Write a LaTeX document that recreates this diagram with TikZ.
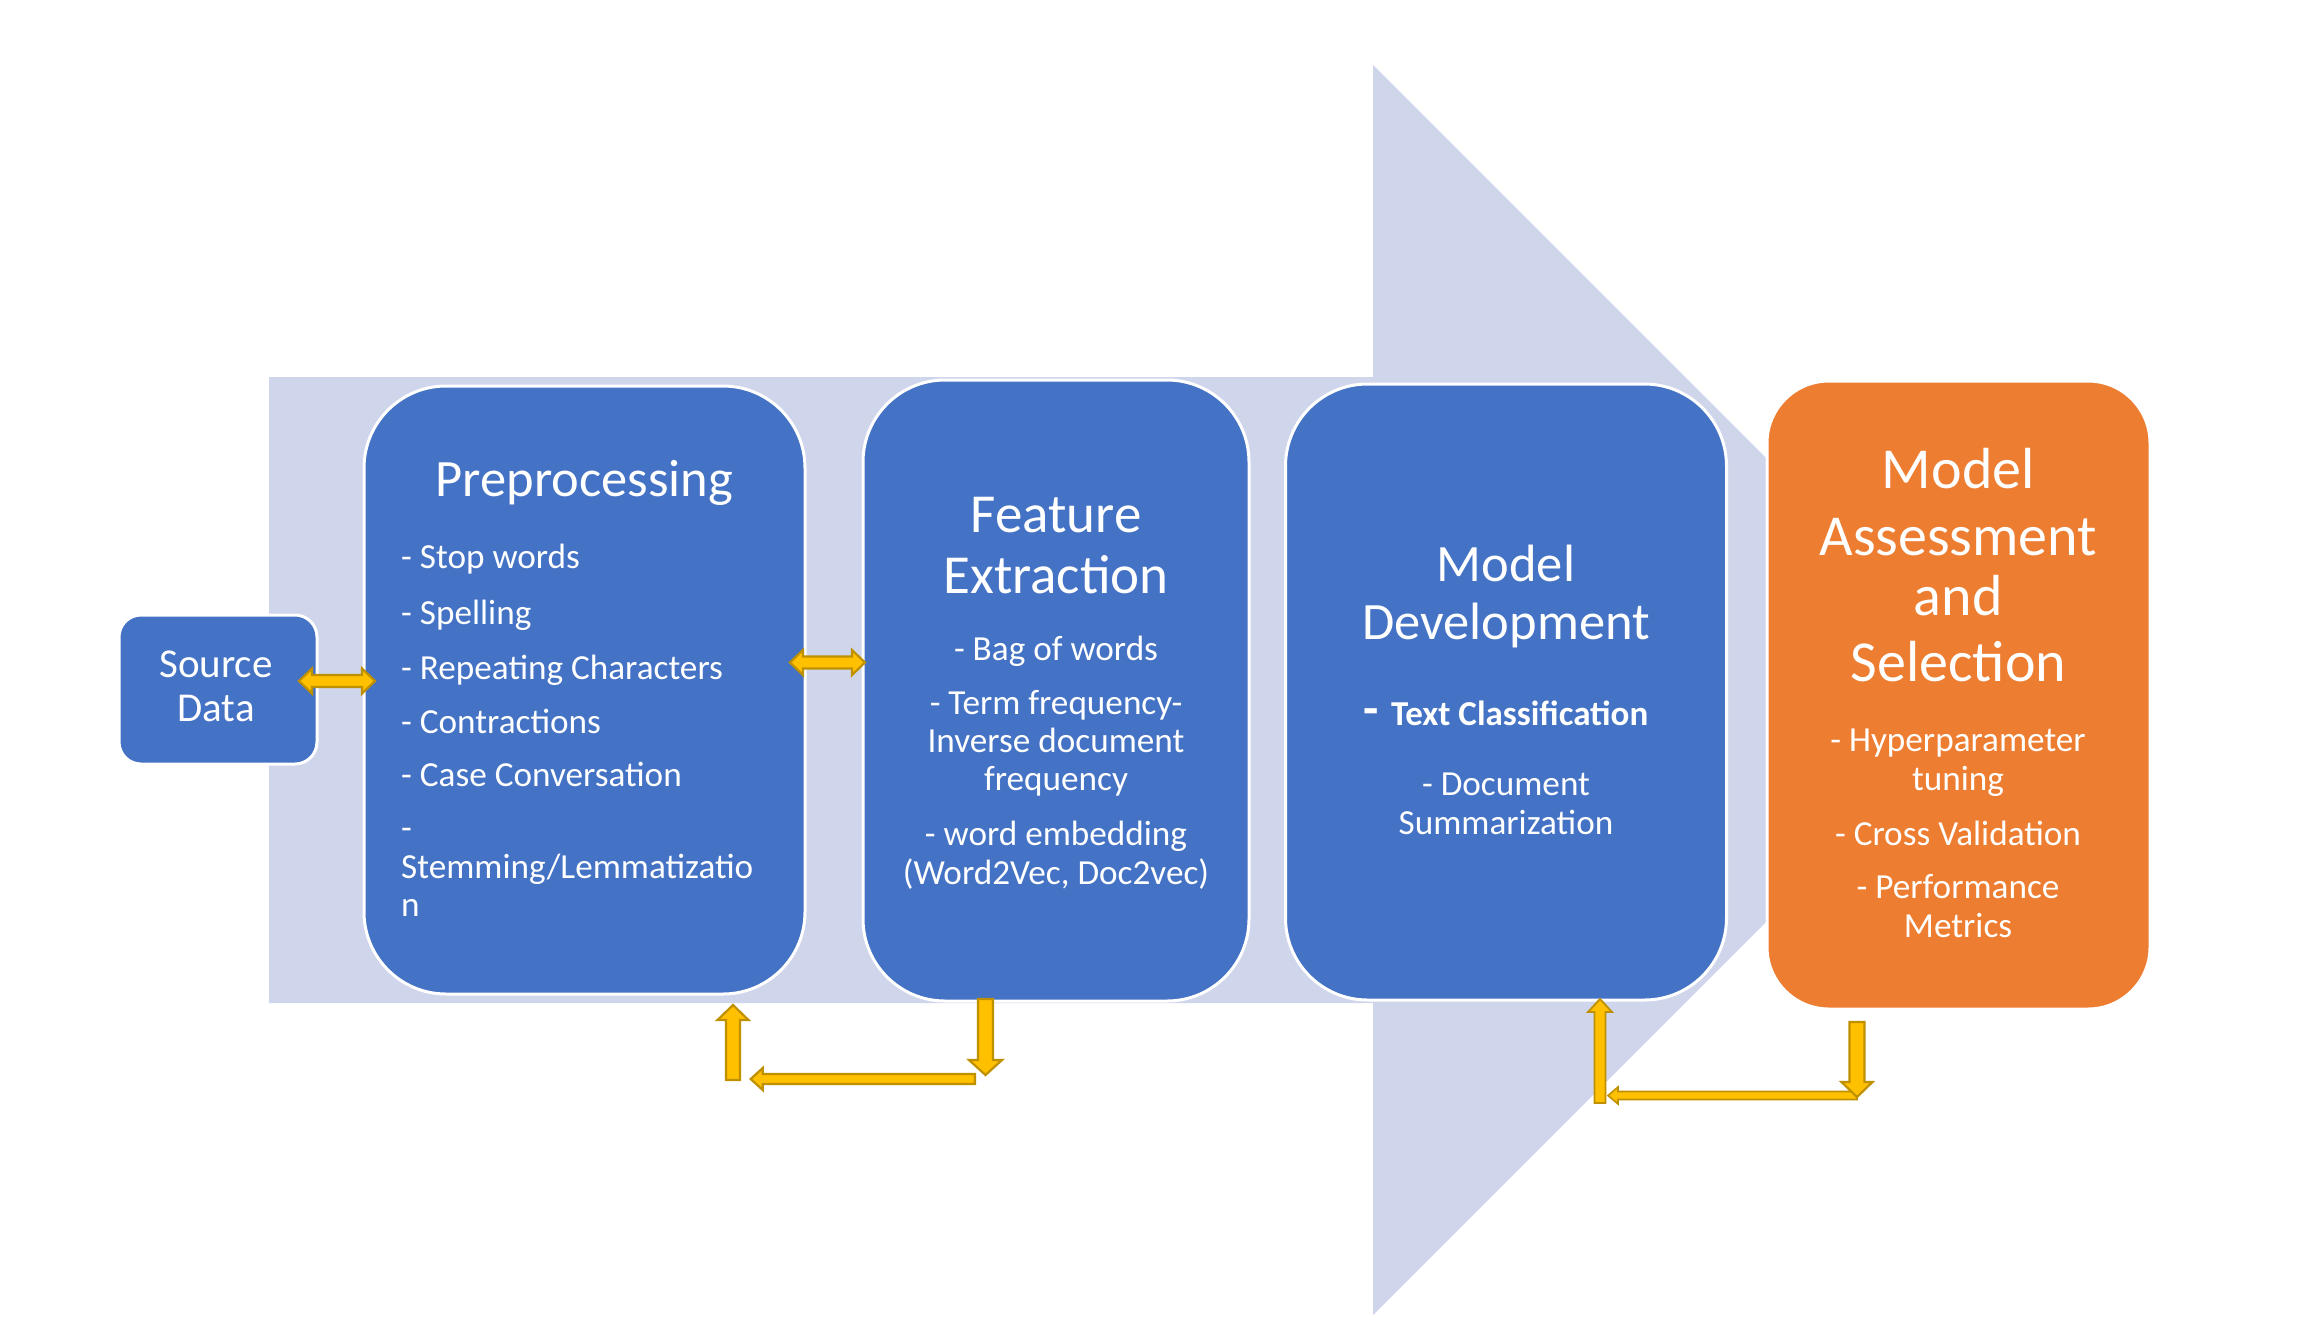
\documentclass[tikz,border=0pt]{standalone}
\usepackage{fontspec}
\setmainfont{Carlito}
\usetikzlibrary{calc}
\definecolor{lav}{HTML}{CFD5EA}
\definecolor{bblue}{HTML}{4472C4}
\definecolor{borange}{HTML}{ED7D31}
\definecolor{ayel}{HTML}{FFC000}
\definecolor{aline}{HTML}{BF9000}
% single block arrow: #2 start, #3 tip, #4 shaft half width, #5 head half width, #6 head length
\newcommand\blockarr[6][]{%
  \coordinate (baB) at ($(#3)!#6!(#2)$);
  \path[yarrow,#1] ($(#2)!#4!90:(#3)$) -- ($(baB)!#4!90:(#3)$) -- ($(baB)!#5!90:(#3)$) -- (#3)
    -- ($(baB)!#5!-90:(#3)$) -- ($(baB)!#4!-90:(#3)$) -- ($(#2)!#4!-90:(#3)$) -- cycle;
}
% double block arrow
\newcommand\dblockarr[6][]{%
  \coordinate (daA) at ($(#2)!#6!(#3)$);
  \coordinate (daB) at ($(#3)!#6!(#2)$);
  \path[yarrow,#1] (#2) -- ($(daA)!#5!90:(#3)$) -- ($(daA)!#4!90:(#3)$) -- ($(daB)!#4!90:(#3)$)
    -- ($(daB)!#5!90:(#3)$) -- (#3) -- ($(daB)!#5!-90:(#3)$) -- ($(daB)!#4!-90:(#3)$)
    -- ($(daA)!#4!-90:(#3)$) -- ($(daA)!#5!-90:(#3)$) -- cycle;
}
\tikzset{
  yarrow/.style={fill=ayel, draw=aline, line width=2.2pt, line join=miter},
  bbox/.style={rectangle, draw=white, line width=3pt, fill=bblue, rounded corners=82pt, inner sep=0pt},
  obox/.style={rectangle, draw=white, line width=3pt, fill=borange, rounded corners=62pt, inner sep=0pt},
  ttl/.style={text=white, inner sep=0pt, anchor=base},
  itm/.style={text=white, inner sep=0pt, anchor=base, font=\fontsize{35.2}{38.5}\selectfont},
  itl/.style={itm, anchor=base west},
}
\begin{document}
\begin{tikzpicture}[x=1pt, y=-1pt]
\useasboundingbox (0,0) rectangle (2319,1326);
\fill[white] (0,0) rectangle (2319,1326);
% big background arrow
\fill[lav] (269,377) -- (1373,377) -- (1373,65) -- (1998,690) -- (1373,1315) -- (1373,1003) -- (269,1003) -- cycle;
% boxes
\node[bbox, rounded corners=22pt, minimum width=198pt, minimum height=149pt] (src) at (218,689.5) {};
\node[bbox, minimum width=441pt, minimum height=608pt] (pre) at (584.5,690) {};
\node[bbox, minimum width=386pt, minimum height=621pt] (feat) at (1056,690.5) {};
\node[bbox, minimum width=441pt, minimum height=616pt] (dev) at (1506,692) {};
\node[obox, minimum width=383pt, minimum height=628pt] (asm) at (1958.5,695) {};
% arrow end points
\coordinate (a1s) at (299,681);   \coordinate (a1e) at (375,681);
\coordinate (a2s) at (790,662.5); \coordinate (a2e) at (865,662.5);
\coordinate (u1s) at (733,1080);  \coordinate (u1e) at (733,1005);
\coordinate (l1s) at (975,1079);  \coordinate (l1e) at (750.7,1079);
\coordinate (d1s) at (985.5,999); \coordinate (d1e) at (985.5,1075);
\coordinate (u2s) at (1600,1103); \coordinate (u2e) at (1600,999);
\coordinate (l2s) at (1857,1095.5); \coordinate (l2e) at (1608,1095.5);
\coordinate (d2s) at (1857,1022); \coordinate (d2e) at (1857,1097);
% yellow block arrows
\dblockarr{a1s}{a1e}{6pt}{12.5pt}{13pt}
\dblockarr{a2s}{a2e}{6pt}{12.5pt}{13pt}
\blockarr{u1s}{u1e}{7pt}{15.5pt}{15pt}
\blockarr{l1s}{l1e}{5pt}{11pt}{12pt}
\blockarr{d1s}{d1e}{7.5pt}{16.5pt}{15pt}
\blockarr[line width=1.8pt]{u2s}{u2e}{5.5pt}{12pt}{13pt}
\blockarr[line width=1.6pt]{l2s}{l2e}{4pt}{8.5pt}{10pt}
\blockarr{d2s}{d2e}{7.5pt}{15.5pt}{15pt}
% Source Data
\node[ttl, font=\fontsize{41}{44}\selectfont] (srcT1) at (216,677) {Source};
\node[ttl, font=\fontsize{41}{44}\selectfont] (srcT2) at (216,721.6) {Data};
% Preprocessing
\node[ttl, font=\fontsize{52.5}{58}\selectfont] (preT) at (584.5,496.5) {Preprocessing};
\node[itl] (pre1) at (401,568) {- Stop words};
\node[itl] (pre2) at (401,624) {- Spelling};
\node[itl] (pre3) at (401,679) {- Repeating Characters};
\node[itl] (pre4) at (401,733) {- Contractions};
\node[itl] (pre5) at (401,786) {- Case Conversation};
\node[itl] (pre6) at (401,839) {-};
\node[itl] (pre7) at (401,878) {Stemming/Lemmatizatio};
\node[itl] (pre8) at (401,916) {n};
% Feature Extraction
\node[ttl, font=\fontsize{55}{60}\selectfont] (featT1) at (1056,532.6) {Feature};
\node[ttl, font=\fontsize{55}{60}\selectfont] (featT2) at (1056,593) {Extraction};
\node[itm] (feat1) at (1056,660) {- Bag of words};
\node[itm] (feat2) at (1056,714.7) {- Term frequency-};
\node[itm] (feat3) at (1056,752.5) {Inverse document};
\node[itm] (feat4) at (1056,790.6) {frequency};
\node[itm] (feat5) at (1056,845.7) {- word embedding};
\node[itm] (feat6) at (1056,884) {(Word2Vec, Doc2vec)};
% Model Development
\node[ttl, font=\fontsize{52.5}{58}\selectfont] (devT1) at (1506,581) {Model};
\node[ttl, font=\fontsize{52.5}{58}\selectfont] (devT2) at (1506,639.7) {Development};
\node[itm, font=\fontsize{35}{38.5}\selectfont\bfseries] (dev1) at (1506,725.6) {{\fontsize{50}{50}\selectfont -}\hspace{12pt}Text Classification};
\node[itm] (dev2) at (1506,795) {- Document};
\node[itm] (dev3) at (1506,834) {Summarization};
% Model Assessment and Selection
\node[ttl, font=\fontsize{58}{64}\selectfont] (asmT1) at (1958.3,488.3) {Model};
\node[ttl, font=\fontsize{58}{64}\selectfont] (asmT2) at (1958.3,555) {Assessment};
\node[ttl, font=\fontsize{58}{64}\selectfont] (asmT3) at (1958.3,615) {and};
\node[ttl, font=\fontsize{58}{64}\selectfont] (asmT4) at (1958.3,681.7) {Selection};
\node[itm] (asm1) at (1958,751.7) {- Hyperparameter};
\node[itm] (asm2) at (1958,790) {tuning};
\node[itm] (asm3) at (1958,845) {- Cross Validation};
\node[itm] (asm4) at (1958,898.5) {- Performance};
\node[itm] (asm5) at (1958,937) {Metrics};
\end{tikzpicture}
\end{document}
